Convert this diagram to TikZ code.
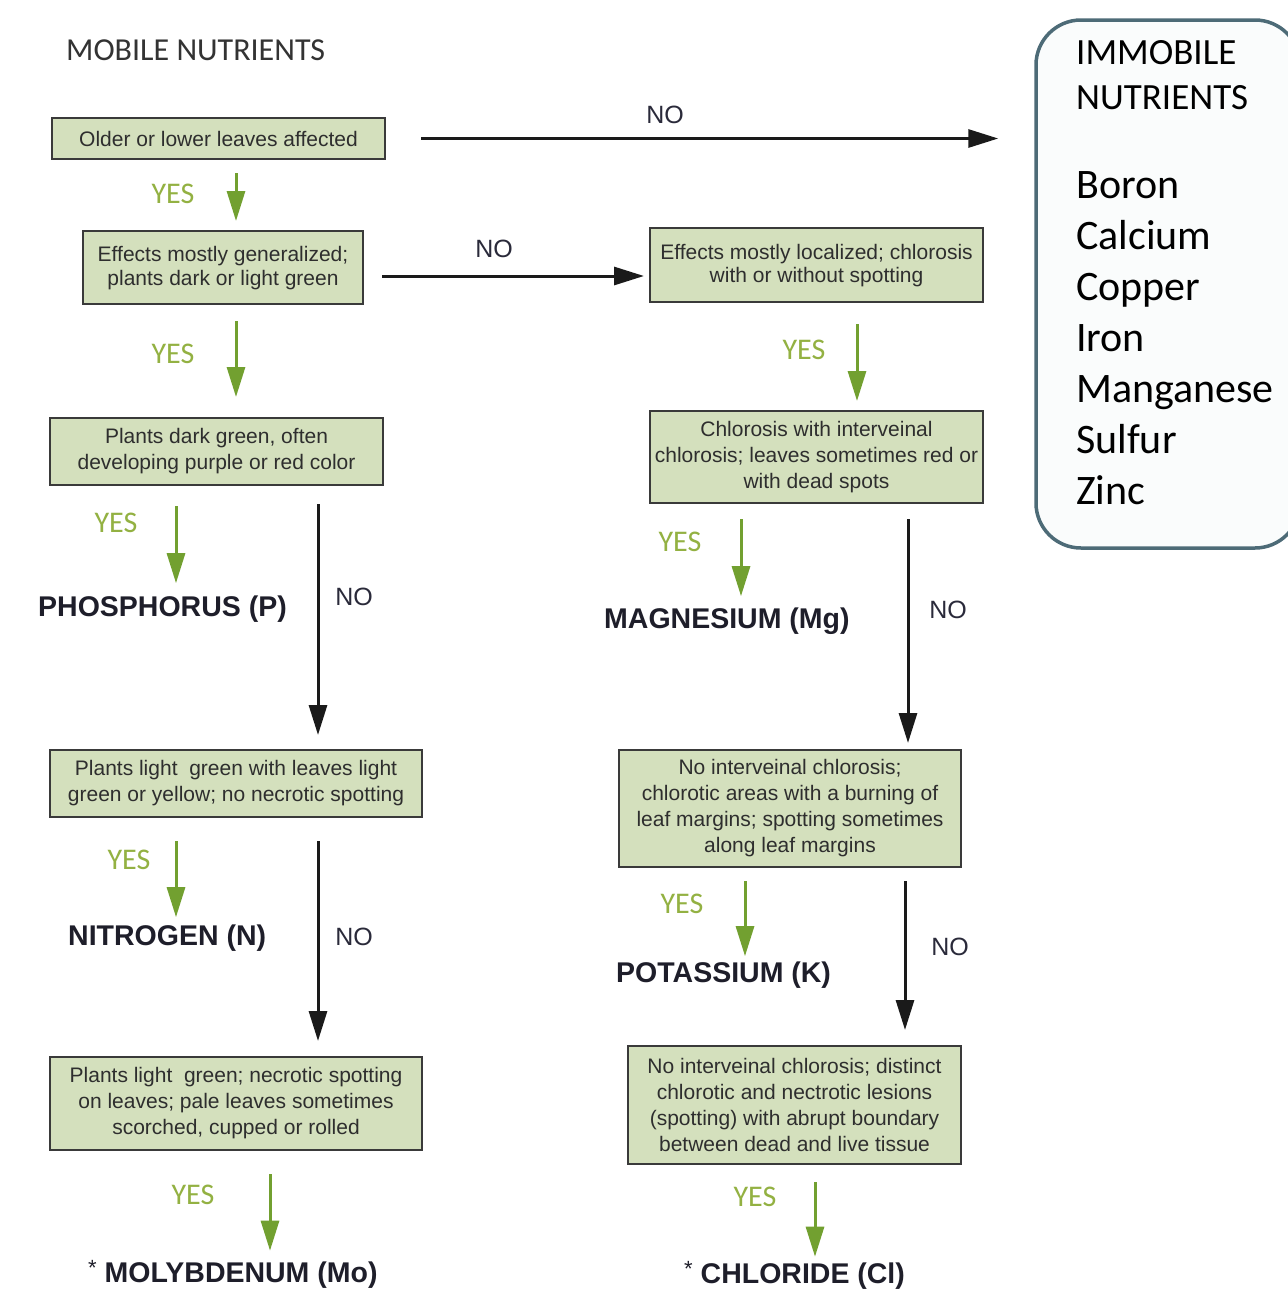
\documentclass[tikz,border=0pt]{standalone}
\usepackage{fontspec}
\setmainfont{Liberation Sans}
\newfontfamily\carl{Carlito}
\usetikzlibrary{arrows.meta}
\definecolor{boxfill}{HTML}{D4E0BD}
\definecolor{boxline}{HTML}{3A3A3A}
\definecolor{boxtext}{HTML}{2E2E2E}
\definecolor{arrgreen}{HTML}{72A030}
\definecolor{yescol}{HTML}{93B142}
\definecolor{arrblack}{HTML}{1A1A1A}
\definecolor{nocol}{HTML}{2A2A3A}
\definecolor{termcol}{HTML}{1E1E2A}
\definecolor{immline}{HTML}{4D6B77}
\definecolor{immfill}{HTML}{FAFCFC}
\definecolor{titlecol}{HTML}{333333}
\tikzset{
  box/.style={draw=boxline, fill=boxfill, line width=2pt, inner sep=0pt, align=center,
    font=\fontsize{21}{26}\selectfont, text=boxtext},
  tightbox/.style={box, font=\fontsize{21}{23.5}\selectfont},
  yarr/.style={draw=arrgreen, line width=3pt, -{Triangle[length=30pt,width=18pt]}, arrgreen},
  narr/.style={draw=arrblack, line width=3pt, -{Triangle[length=30pt,width=18pt]}, arrblack},
  yeslab/.style={font=\carl\fontsize{30}{32}\selectfont, text=yescol, inner sep=0pt},
  nolab/.style={font=\fontsize{25}{27}\selectfont, text=nocol, inner sep=0pt},
  term/.style={font=\bfseries\fontsize{28.5}{30}\selectfont, text=termcol, inner sep=0pt, anchor=base west},
  immtext/.style={font=\carl\fontsize{42}{50}\selectfont, text=black, inner sep=0pt, anchor=base west},
  immhead/.style={font=\carl\fontsize{37}{45}\selectfont, text=black, inner sep=0pt, anchor=base west}
}
\newcommand{\astmark}{\raisebox{7pt}{\mdseries\fontsize{22}{24}\selectfont *}}
\begin{document}
\begin{tikzpicture}[x=1pt,y=-1pt]
\useasboundingbox (0,0) rectangle (1288,1307);
\fill[white] (0,0) rectangle (1288,1307);

% title
\node[font=\carl\fontsize{32}{34}\selectfont, text=titlecol, inner sep=0pt, anchor=base west] (title) at (66,60) {MOBILE NUTRIENTS};

% immobile box
\node[draw=immline, line width=3.5pt, rounded corners=45pt, fill=immfill, minimum width=264pt, minimum height=528pt, inner sep=0pt] (imm) at (1168,284) {};
\node[immhead] (ih1) at (1076,64) {IMMOBILE};
\node[immhead] (ih2) at (1076,109) {NUTRIENTS};
\node[immtext] (i1) at (1076,198) {Boron};
\node[immtext] (i2) at (1076,249) {Calcium};
\node[immtext] (i3) at (1076,300) {Copper};
\node[immtext] (i4) at (1076,351) {Iron};
\node[immtext] (i5) at (1076,402) {Manganese};
\node[immtext] (i6) at (1076,453) {Sulfur};
\node[immtext] (i7) at (1076,504) {Zinc};

% boxes
\node[box, minimum width=333pt, minimum height=41pt] (b1) at (218.5,138.5) {Older or lower leaves affected};
\node[tightbox, minimum width=280pt, minimum height=73pt] (b2) at (223,267.5) {Effects mostly generalized;\\plants dark or light green\\[-20pt]\mbox{}};
\node[tightbox, minimum width=333pt, minimum height=74pt] (b3) at (816.5,265) {Effects mostly localized; chlorosis\\with or without spotting\\[-20pt]\mbox{}};
\node[box, minimum width=333pt, minimum height=67pt] (b4) at (216.5,451.5) {Plants dark green, often\\developing purple or red color};
\node[box, minimum width=333pt, minimum height=92pt] (b5) at (816.5,457) {Chlorosis with interveinal\\chlorosis; leaves sometimes red or\\with dead spots};
\node[box, minimum width=372pt, minimum height=67pt] (b6) at (236,783.5) {Plants light\ \ green with leaves light\\green or yellow; no necrotic spotting};
\node[box, minimum width=342pt, minimum height=117pt] (b7) at (790,808.5) {No interveinal chlorosis;\\chlorotic areas with a burning of\\leaf margins; spotting sometimes\\along leaf margins};
\node[box, minimum width=372pt, minimum height=93pt] (b8) at (236,1103.5) {Plants light\ \ green; necrotic spotting\\on leaves; pale leaves sometimes\\scorched, cupped or rolled};
\node[box, minimum width=333pt, minimum height=118pt] (b9) at (794.5,1105) {No interveinal chlorosis; distinct\\chlorotic and nectrotic lesions\\(spotting) with abrupt boundary\\between dead and live tissue};

% terminal labels
\node[term] (P) at (38,616) {PHOSPHORUS (P)};
\node[term] (Mg) at (604,628) {MAGNESIUM (Mg)};
\node[term] (N) at (68,945) {NITROGEN (N)};
\node[term] (K) at (616,982) {POTASSIUM (K)};
\node[term] (Mo) at (88,1282) {\astmark\ MOLYBDENUM (Mo)};
\node[term] (Cl) at (684,1283) {\astmark\ CHLORIDE (Cl)};

% YES / NO labels
\node[nolab] (n1) at (665,115) {NO};
\node[nolab] (n2) at (494,249) {NO};
\node[nolab] (n3) at (354,597) {NO};
\node[nolab] (n4) at (948,610) {NO};
\node[nolab] (n5) at (354,937) {NO};
\node[nolab] (n6) at (950,947) {NO};
\node[yeslab] (y1) at (173,194) {YES};
\node[yeslab] (y2) at (173,354) {YES};
\node[yeslab] (y3) at (804,350) {YES};
\node[yeslab] (y4) at (116,523) {YES};
\node[yeslab] (y5) at (680,542) {YES};
\node[yeslab] (y6) at (129,860) {YES};
\node[yeslab] (y7) at (682,904) {YES};
\node[yeslab] (y8) at (193,1195) {YES};
\node[yeslab] (y9) at (755,1197) {YES};

% connectors
\draw[narr, shorten <=35pt, shorten >=36pt] (b1.east) -- (imm.west |- b1.east);
\draw[yarr, shorten <=13pt, shorten >=9pt] (236,0 |- b1.south) -- (236,0 |- b2.north);
\draw[narr, shorten <=18pt, shorten >=5pt] (b2.east |- 0,276) -- (b3.west |- 0,276);
\draw[yarr, shorten <=16pt, shorten >=20pt] (236,0 |- b2.south) -- (236,0 |- b4.north);
\draw[yarr, shorten <=21pt, shorten >=9pt] (857,0 |- b3.south) -- (857,0 |- b5.north);
\draw[yarr, shorten <=20pt, shorten >=12pt] (176,0 |- b4.south) -- (176,0 |- P.north);
\draw[narr, shorten <=18pt, shorten >=14pt] (318,0 |- b4.south) -- (318,0 |- b6.north);
\draw[yarr, shorten <=15pt, shorten >=11pt] (741,0 |- b5.south) -- (741,0 |- Mg.north);
\draw[narr, shorten <=15pt, shorten >=6pt] (908,0 |- b5.south) -- (908,0 |- b7.north);
\draw[yarr, shorten <=23pt, shorten >=7pt] (176,0 |- b6.south) -- (176,0 |- N.north);
\draw[narr, shorten <=23pt, shorten >=15pt] (318,0 |- b6.south) -- (318,0 |- b8.north);
\draw[yarr, shorten <=13pt, shorten >=5pt] (745,0 |- b7.south) -- (745,0 |- K.north);
\draw[narr, shorten <=13pt, shorten >=15pt] (905,0 |- b7.south) -- (905,0 |- b9.north);
\draw[yarr, shorten <=23pt, shorten >=9pt] (270,0 |- b8.south) -- (270,0 |- Mo.north);
\draw[yarr, shorten <=17pt, shorten >=4pt] (815,0 |- b9.south) -- (815,0 |- Cl.north);
\end{tikzpicture}
\end{document}
